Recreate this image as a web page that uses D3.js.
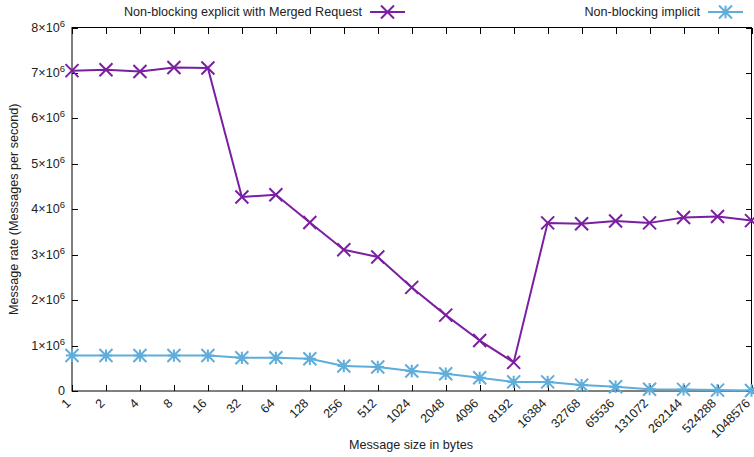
<!DOCTYPE html>
<html>
<head>
<meta charset="utf-8">
<script src="https://cdn.jsdelivr.net/npm/d3@7"></script>
<style>
  html, body { margin: 0; padding: 0; background: #fff; }
  svg { display: block; font-family: "Liberation Sans", Arial, sans-serif; }
</style>
</head>
<body>
<svg id="chart" width="754" height="457"></svg>
<script>
// Message sizes (bytes) on the x axis
const sizes = ["1","2","4","8","16","32","64","128","256","512","1024","2048","4096",
  "8192","16384","32768","65536","131072","262144","524288","1048576"];

// Message rates (messages per second)
const explicitMerged = [7.05e6, 7.07e6, 7.03e6, 7.12e6, 7.11e6, 4.27e6, 4.32e6, 3.71e6,
  3.11e6, 2.95e6, 2.28e6, 1.67e6, 1.11e6, 0.63e6, 3.70e6, 3.68e6, 3.74e6, 3.70e6,
  3.82e6, 3.84e6, 3.75e6];
const implicitRate = [0.78e6, 0.78e6, 0.78e6, 0.78e6, 0.78e6, 0.73e6, 0.73e6, 0.71e6,
  0.55e6, 0.53e6, 0.44e6, 0.38e6, 0.29e6, 0.20e6, 0.20e6, 0.13e6, 0.095e6, 0.04e6,
  0.035e6, 0.02e6, 0.01e6];

// Y tick values (labelled as a×10^6)
const yTicks = [0, 1e6, 2e6, 3e6, 4e6, 5e6, 6e6, 7e6, 8e6];

const seriesNames = ["Non-blocking explicit with Merged Request", "Non-blocking implicit"];
const colors = ["#7b1fa2", "#5fadda"];

const svg = d3.select("#chart");
const plotL = 72, plotR = 751.5, plotT = 27.5, plotB = 391;
const fs = 12.6;

const x = d3.scalePoint().domain(sizes).range([plotL, plotR]);
const y = d3.scaleLinear().domain([0, 8e6]).range([plotB, plotT]);

// Frame
svg.append("rect")
  .attr("x", plotL).attr("y", plotT)
  .attr("width", plotR - plotL).attr("height", plotB - plotT)
  .attr("fill", "none").attr("stroke", "#000").attr("stroke-width", 1);

const tickLen = 6;
const ticks = svg.append("g").attr("stroke", "#000").attr("stroke-width", 1)
  .attr("shape-rendering", "crispEdges");

// X ticks (bottom + mirrored top)
sizes.forEach(s => {
  const xx = Math.round(x(s)) + 0.5;
  ticks.append("line").attr("x1", xx).attr("x2", xx).attr("y1", plotB).attr("y2", plotB - tickLen);
  ticks.append("line").attr("x1", xx).attr("x2", xx).attr("y1", plotT).attr("y2", plotT + tickLen);
});
// Y ticks (left + mirrored right)
yTicks.forEach(v => {
  const yy = Math.round(y(v)) + 0.5;
  ticks.append("line").attr("x1", plotL).attr("x2", plotL + tickLen).attr("y1", yy).attr("y2", yy);
  ticks.append("line").attr("x1", plotR).attr("x2", plotR - tickLen).attr("y1", yy).attr("y2", yy);
});

// Y tick labels
const yl = svg.append("g").attr("font-size", fs).attr("fill", "#222").attr("text-anchor", "end");
yTicks.forEach(v => {
  const t = yl.append("text").attr("x", 65).attr("y", y(v) + 4);
  if (v === 0) {
    t.text("0");
  } else {
    t.append("tspan").text((v / 1e6) + "×10");
    t.append("tspan").attr("dy", -5).attr("font-size", 9.5).text("6");
  }
});

// X tick labels, rotated 45°
const xl = svg.append("g").attr("font-size", fs).attr("fill", "#222");
sizes.forEach(s => {
  xl.append("text")
    .attr("transform", `translate(${x(s) - 0.5},${plotB + 13}) rotate(-45)`)
    .attr("text-anchor", "end")
    .text(s);
});

// Axis titles
svg.append("text")
  .attr("x", 411).attr("y", 449)
  .attr("text-anchor", "middle").attr("font-size", fs).attr("fill", "#222")
  .text("Message size in bytes");
svg.append("text")
  .attr("transform", `translate(18,${(plotT + plotB) / 2}) rotate(-90)`)
  .attr("text-anchor", "middle").attr("font-size", fs).attr("fill", "#222")
  .text("Message rate (Messages per second)");

// Marker shapes
const ms = 6.5;
function crossPath(cx, cy) {
  return `M${cx - ms},${cy - ms}L${cx + ms},${cy + ms}M${cx - ms},${cy + ms}L${cx + ms},${cy - ms}`;
}
function starPath(cx, cy) {
  const d = ms * 0.95;
  return crossPath(cx, cy) + `M${cx - d},${cy}L${cx + d},${cy}M${cx},${cy - d}L${cx},${cy + d}`;
}

const line = d3.line().x((d, i) => x(sizes[i])).y(d => y(d));

const series = [
  { values: explicitMerged, color: colors[0], marker: crossPath },
  { values: implicitRate, color: colors[1], marker: starPath }
];

series.forEach(sr => {
  const g = svg.append("g");
  g.append("path")
    .attr("d", line(sr.values))
    .attr("fill", "none").attr("stroke", sr.color).attr("stroke-width", 2)
    .attr("stroke-linejoin", "round");
  g.append("path")
    .attr("d", sr.values.map((v, i) => sr.marker(x(sizes[i]), y(v))).join(""))
    .attr("fill", "none").attr("stroke", sr.color).attr("stroke-width", 2);
});

// Legend
const legendItems = [
  { name: seriesNames[0], textEnd: 362, lx1: 370, lx2: 405, color: colors[0], marker: crossPath },
  { name: seriesNames[1], textEnd: 700, lx1: 708, lx2: 743, color: colors[1], marker: starPath }
];
legendItems.forEach(it => {
  svg.append("text")
    .attr("x", it.textEnd).attr("y", 16)
    .attr("text-anchor", "end").attr("font-size", fs).attr("fill", "#222")
    .text(it.name);
  svg.append("line")
    .attr("x1", it.lx1).attr("x2", it.lx2).attr("y1", 12).attr("y2", 12)
    .attr("stroke", it.color).attr("stroke-width", 2);
  svg.append("path")
    .attr("d", it.marker((it.lx1 + it.lx2) / 2, 12))
    .attr("fill", "none").attr("stroke", it.color).attr("stroke-width", 2);
});
</script>
</body>
</html>
